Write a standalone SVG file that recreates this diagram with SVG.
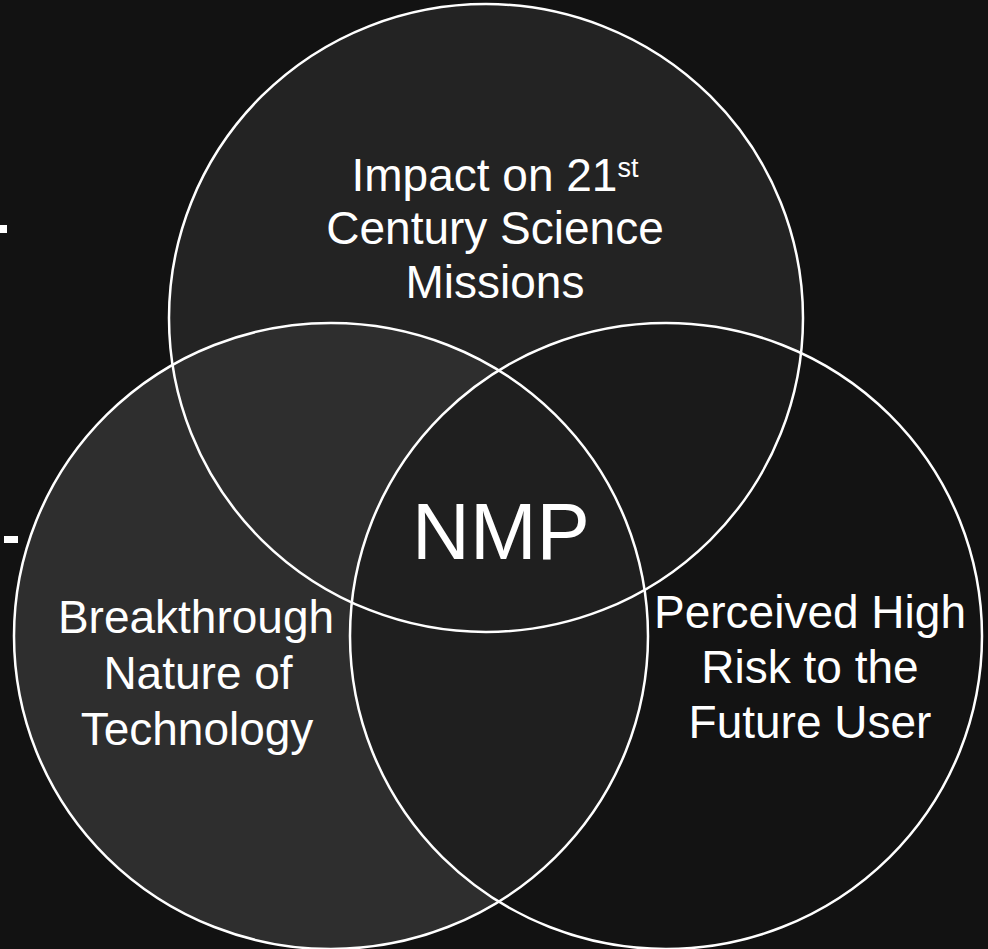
<svg xmlns="http://www.w3.org/2000/svg" xmlns:xlink="http://www.w3.org/1999/xlink" width="988" height="949" viewBox="0 0 988 949">
<style>
  .lbl { font-family: "Liberation Sans", Arial, sans-serif; fill: #ffffff; font-size: 46px; text-anchor: middle; }
  .big { font-size: 80px; }
  .outline { fill: none; stroke: #ffffff; stroke-width: 2.5; }
  .fill-top { fill: #232323; }
  .fill-left { fill: #2e2e2e; }
  .fill-right { fill: #141414; fill-opacity: 0.55; }
</style>
<defs>
  <ellipse id="shape-top" cx="486" cy="318" rx="317" ry="314"/>
  <ellipse id="shape-left" cx="331" cy="636" rx="317" ry="313"/>
  <ellipse id="shape-right" cx="666" cy="636" rx="316" ry="313"/>
</defs>
<rect x="0" y="0" width="988" height="949" fill="#121212"/>
<g id="bullets" fill="#ffffff">
  <rect x="0" y="225" width="7" height="8"/>
  <rect x="4" y="536" width="14" height="7"/>
</g>
<g id="node-science">
  <use xlink:href="#shape-top" class="fill-top"/>
  <text class="lbl" x="495" y="191">Impact on 21<tspan font-size="27" dy="-14">st</tspan></text>
  <text class="lbl" x="495" y="244">Century Science</text>
  <text class="lbl" x="495" y="298">Missions</text>
</g>
<g id="node-breakthrough">
  <use xlink:href="#shape-left" class="fill-left"/>
  <text class="lbl" x="196" y="633">Breakthrough</text>
  <text class="lbl" x="198" y="689">Nature of</text>
  <text class="lbl" x="197" y="745">Technology</text>
</g>
<g id="node-risk">
  <use xlink:href="#shape-right" class="fill-right"/>
  <text class="lbl" x="810" y="628">Perceived High</text>
  <text class="lbl" x="810" y="683">Risk to the</text>
  <text class="lbl" x="810" y="738">Future User</text>
</g>
<g id="outlines">
  <use xlink:href="#shape-top" class="outline"/>
  <use xlink:href="#shape-left" class="outline" stroke-width="2"/>
  <use xlink:href="#shape-right" class="outline" stroke-width="2"/>
</g>
<g id="node-nmp">
  <text class="lbl big" x="501" y="559">NMP</text>
</g>
</svg>
